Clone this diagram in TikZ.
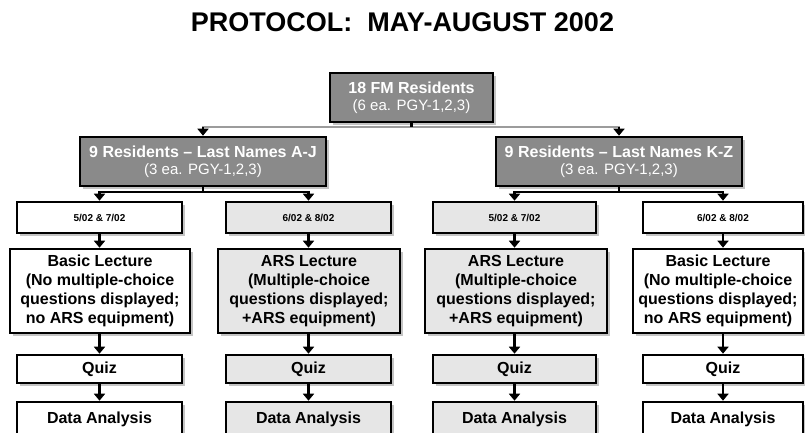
\documentclass[tikz,border=0pt]{standalone}
\usepackage{fontspec}
\setmainfont{Liberation Sans}
\usetikzlibrary{shadows,arrows.meta}
\definecolor{graybox}{HTML}{8A8A8A}
\definecolor{lightbox}{HTML}{E6E6E6}
\definecolor{shadowgray}{HTML}{C4C4C4}
\definecolor{linegray}{HTML}{9C9C9C}
\tikzset{
  box/.style={draw=black, line width=2.6pt, rectangle, inner sep=0pt, align=center,
    font=\bfseries\fontsize{16}{19}\selectfont,
    drop shadow={shadow xshift=3pt, shadow yshift=-3pt, fill=shadowgray, opacity=1}},
  dbox/.style={box, fill=graybox, text=white, font=\bfseries\fontsize{16}{17}\selectfont},
  wbox/.style={box, fill=white},
  lbox/.style={box, fill=lightbox},
  datebox/.style={minimum height=31pt, font=\bfseries\fontsize{10}{12}\selectfont},
  lecbox/.style={minimum height=84pt},
  quizbox/.style={minimum height=28pt},
  databox/.style={minimum height=34pt},
  arr/.style={line width=2.6pt, -{Triangle[width=11pt,length=7pt]}},
  conn/.style={line width=2.6pt, line cap=rect}
}
\newcommand{\subline}[1]{{\mdseries\fontsize{15}{17}\selectfont #1}}
\begin{document}
\begin{tikzpicture}[x=1pt,y=-1pt]
\useasboundingbox (0,0) rectangle (805,432);
\clip (0,0) rectangle (805,432);
\fill[white] (0,0) rectangle (805,432);

\node[font=\bfseries\fontsize{27}{30}\selectfont, anchor=base] (title) at (402.5,31) {PROTOCOL:\ \ MAY-AUGUST 2002};

% top box
\node[dbox, minimum width=163pt, minimum height=49pt] (top) at (411.5,97.5)
  {18 FM Residents\\\subline{(6 ea. PGY-1,2,3)}};
% group boxes
\node[dbox, minimum width=246pt, minimum height=49pt] (gL) at (203,161.5)
  {9 Residents -- Last Names A-J\\\subline{(3 ea. PGY-1,2,3)}};
\node[dbox, minimum width=246pt, minimum height=49pt] (gR) at (619,161.5)
  {9 Residents -- Last Names K-Z\\\subline{(3 ea. PGY-1,2,3)}};

% date boxes
\node[wbox, datebox, minimum width=165pt] (d1) at (99.5,217.5) {5/02 \& 7/02};
\node[lbox, datebox, minimum width=165pt] (d2) at (308.5,217.5) {6/02 \& 8/02};
\node[lbox, datebox, minimum width=163pt] (d3) at (514.5,217.5) {5/02 \& 7/02};
\node[wbox, datebox, minimum width=160pt] (d4) at (723,217.5) {6/02 \& 8/02};

% lecture boxes
\node[wbox, lecbox, minimum width=180pt] (l1) at (100,291)
  {Basic Lecture\\(No multiple-choice\\questions displayed;\\no ARS equipment)};
\node[lbox, lecbox, minimum width=182pt] (l2) at (309,291)
  {ARS Lecture\\(Multiple-choice\\questions displayed;\\+ARS equipment)};
\node[lbox, lecbox, minimum width=182pt] (l3) at (516,291)
  {ARS Lecture\\(Multiple-choice\\questions displayed;\\+ARS equipment)};
\node[wbox, lecbox, minimum width=170pt] (l4) at (718,291)
  {Basic Lecture\\(No multiple-choice\\questions displayed;\\no ARS equipment)};

% quiz boxes
\node[wbox, quizbox, minimum width=165pt] (q1) at (99.5,369) {Quiz};
\node[lbox, quizbox, minimum width=165pt] (q2) at (308.5,369) {Quiz};
\node[lbox, quizbox, minimum width=163pt] (q3) at (514.5,369) {Quiz};
\node[wbox, quizbox, minimum width=160pt] (q4) at (723,369) {Quiz};

% data boxes
\node[wbox, databox, minimum width=165pt] (a1) at (99.5,419) {Data Analysis};
\node[lbox, databox, minimum width=165pt] (a2) at (308.5,419) {Data Analysis};
\node[lbox, databox, minimum width=163pt] (a3) at (514.5,419) {Data Analysis};
\node[wbox, databox, minimum width=160pt] (a4) at (723,419) {Data Analysis};

% top split
\coordinate (tl) at (203,127);
\coordinate (tr) at (619,127);
\draw[conn, draw=linegray] (tl) -- (tr);
\draw[conn, line cap=butt] (top.south) -- (top.south |- tl);
\draw[arr] (tl) -- (gL.north);
\draw[arr] (tr) -- (gR.north);

% group splits
\coordinate (gl1) at (99.5,192);
\coordinate (gl2) at (308.5,192);
\coordinate (gr1) at (514.5,192);
\coordinate (gr2) at (723,192);
\draw[conn] (gl1) -- (gl2);
\draw[conn] (gr1) -- (gr2);
\draw[conn, line cap=butt] (gL.south) -- (gL.south |- gl1);
\draw[conn, line cap=butt] (gR.south) -- (gR.south |- gr1);
\draw[arr] (gl1) -- (d1.north);
\draw[arr] (gl2) -- (d2.north);
\draw[arr] (gr1) -- (d3.north);
\draw[arr] (gr2) -- (d4.north);

% column arrows
\foreach \i in {1,2,3,4}{
  \draw[arr] (d\i.south) -- (d\i.south |- l\i.north);
  \draw[arr] (l\i.south -| q\i.north) -- (q\i.north);
  \draw[arr] (q\i.south) -- (a\i.north);
}
\end{tikzpicture}
\end{document}
